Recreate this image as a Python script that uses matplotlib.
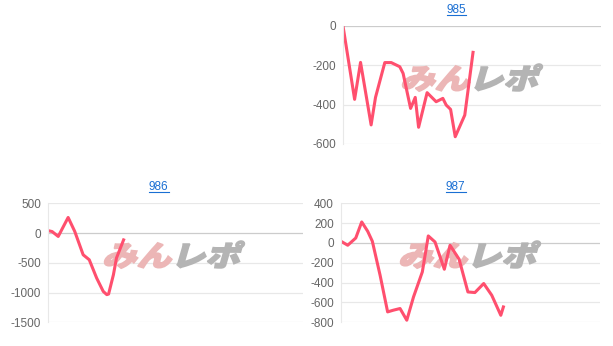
import matplotlib.pyplot as plt
from matplotlib.textpath import TextPath
from matplotlib.patches import PathPatch
from matplotlib.font_manager import FontProperties
from matplotlib.transforms import Affine2D
from matplotlib.lines import Line2D

# データ（横軸は全体に対する位置 0〜100）
x985 = [0, 4.5, 6.8, 10.9, 12.6, 16.2, 18.7, 22.0, 23.3, 26.2, 28.0, 29.3,
        32.6, 36.1, 38.7, 40.0, 41.7, 43.5, 47.2, 50.4]
y985 = [0, -373, -185, -503, -363, -186, -186, -207, -241, -419, -363, -515,
        -339, -385, -368, -402, -424, -563, -453, -134]

x986 = [0, 1.5, 3.9, 7.8, 10.4, 13.7, 16.1, 19.0, 21.6, 23.0, 23.7, 25.6, 26.8, 29.6]
y986 = [40, 25, -57, 262, 27, -365, -449, -756, -981, -1035, -1025, -700, -420, -115]

x987 = [0, 2.6, 5.7, 8.0, 10.3, 12.1, 15.1, 18.0, 20.2, 22.8, 25.4, 28.0, 31.4,
        33.7, 36.3, 39.9, 42.1, 45.6, 49.0, 51.7, 55.1, 58.2, 61.7, 62.7]
y987 = [17, -23, 50, 212, 118, 17, -326, -695, -678, -661, -779, -544, -292,
        71, 10, -265, -23, -164, -494, -500, -409, -527, -729, -645]

ticks985 = [0, -200, -400, -600]
ticks986 = [500, 0, -500, -1000, -1500]
ticks987 = [400, 200, 0, -200, -400, -600, -800]

W, H = 613, 346
LINE = "#ff4f6e"
GRID = "#e8e8e8"
ZERO = "#cccccc"
LINK = "#1a6fd3"

plt.rcParams['font.family'] = ['Liberation Sans', 'DejaVu Sans']

fig = plt.figure(figsize=(W / 100, H / 100), dpi=100)


def px_axes(l, t, r, b):
    return fig.add_axes([l / W, 1 - b / H, (r - l) / W, (b - t) / H])


def watermark(ax, cx, cy):
    fp = FontProperties(family='Noto Sans CJK JP', weight='black')
    parts = [("みん", "#ecb6b6"), ("レポ", "#b4b4b4")]
    x0 = cx - 72
    for s, col in parts:
        tp = TextPath((0, 0), s, size=30, prop=fp)
        w = tp.get_extents().width
        tr = (Affine2D().scale(1.15, 0.95).skew_deg(16, 0)
              .translate(x0, H - cy - 12).scale(1 / W, 1 / H) + fig.transFigure)
        ax.add_patch(PathPatch(tp, transform=tr, facecolor=col, edgecolor=col,
                               lw=1.2, zorder=1.5, clip_on=False))
        x0 += w * 1.15 + 2


def title(s, cx, cy):
    t = fig.text(cx / W, 1 - cy / H, s, color=LINK, fontsize=8.5,
                 ha='center', va='center')
    fig.canvas.draw()
    bb = t.get_window_extent()
    fig.add_artist(Line2D([bb.x0 / W, bb.x1 / W], [(bb.y0 + 1) / H] * 2,
                          color=LINK, lw=0.8))


def panel(ax, x, y, ticks):
    ax.plot(x, y, color=LINE, lw=2.2, zorder=2, solid_joinstyle='round')
    ax.set_xlim(0, 100)
    ax.set_ylim(min(ticks), max(ticks))
    ax.set_yticks(ticks)
    ax.set_yticklabels([str(v) for v in ticks])
    ax.set_xticks([])
    for v in ticks:
        ax.axhline(v, color=ZERO if v == 0 else GRID, lw=0.9, zorder=0.5)
    for k in ['top', 'right', 'bottom']:
        ax.spines[k].set_visible(False)
    ax.spines['left'].set_color(GRID)
    ax.tick_params(axis='y', length=0, pad=5, labelsize=8.5, colors='#666666')


ax1 = px_axes(343, 26, 601, 144)
panel(ax1, x985, y985, ticks985)
watermark(ax1, 472, 77)

ax2 = px_axes(48.3, 203.3, 302.7, 322.3)
panel(ax2, x986, y986, ticks986)
watermark(ax2, 174, 254)

ax3 = px_axes(341, 203.3, 600, 322.3)
panel(ax3, x987, y987, ticks987)
watermark(ax3, 470, 254)

title("985", 456.5, 10)
title("986", 158.7, 187)
title("987", 455.7, 187)

fig.savefig("out.png", dpi=100)
